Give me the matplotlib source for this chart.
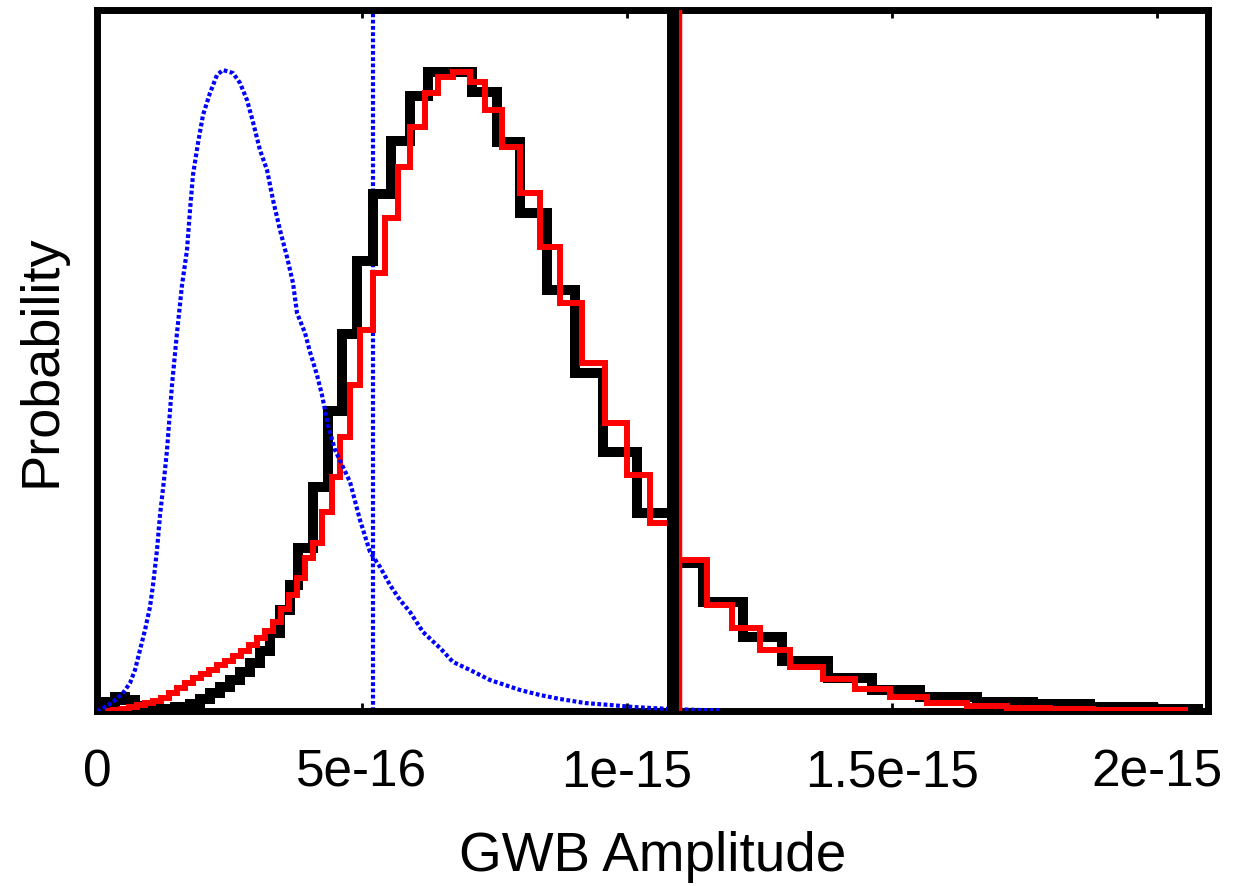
import matplotlib
matplotlib.use("Agg")
import matplotlib.pyplot as plt

plt.rcParams['font.family'] = ['Liberation Sans', 'DejaVu Sans']

SCALE = 1e-16  # x values below are in units of 1e-16

# Red histogram (bin edges, normalised probability per bin)
red_edges = [0.151, 0.302, 0.453, 0.604, 0.755, 0.906, 1.057, 1.208, 1.358, 1.509,
             1.660, 1.811, 1.962, 2.113, 2.264, 2.415, 2.566, 2.717, 2.868, 3.019,
             3.170, 3.321, 3.472, 3.623, 3.774, 3.925, 4.075, 4.245, 4.434, 4.585,
             4.774, 4.962, 5.208, 5.434, 5.679, 5.906, 6.189, 6.434, 6.717, 7.038,
             7.321, 7.642, 7.981, 8.358, 8.736, 9.151, 9.585, 10.000, 10.434, 10.943,
             11.509, 11.981, 12.509, 13.075, 13.698, 14.302, 14.962, 15.660, 16.415, 17.170,
             17.981, 18.792, 19.679, 20.585]
red_prob = [0.0, 0.0016, 0.0031, 0.0063, 0.0094, 0.0125, 0.0156, 0.0203, 0.0282, 0.036,
            0.0438, 0.0516, 0.0579, 0.0642, 0.072, 0.0782, 0.0861, 0.0939, 0.1033, 0.1142,
            0.1252, 0.1393, 0.1596, 0.1815, 0.2081, 0.2394, 0.2629, 0.3114, 0.3662, 0.4288,
            0.5102, 0.5962, 0.6854, 0.7715, 0.8513, 0.9139, 0.9671, 0.9922, 1.0, 0.9844,
            0.9405, 0.8826, 0.8106, 0.7261, 0.6385, 0.5446, 0.4507, 0.3693, 0.2942, 0.2363,
            0.1659, 0.1299, 0.0955, 0.0689, 0.0501, 0.0344, 0.0219, 0.0125, 0.0078, 0.0047,
            0.0031, 0.0016, 0.0008]

# Black histogram
black_edges = [0.0, 0.151, 0.340, 0.528, 0.717, 0.906, 1.189, 1.472, 1.755, 1.943,
               2.132, 2.321, 2.509, 2.698, 2.887, 3.075, 3.264, 3.453, 3.642, 3.792,
               4.075, 4.358, 4.623, 4.906, 5.208, 5.547, 5.906, 6.245, 7.075, 7.547,
               7.981, 8.491, 9.019, 9.547, 10.189, 10.849, 11.434, 12.189, 12.925, 13.792,
               14.623, 15.528, 16.604, 17.660, 18.736, 19.925, 20.868]
black_prob = [0.0094, 0.0141, 0.0219, 0.0172, 0.0078, 0.0016, 0.0031, 0.0063, 0.011, 0.0188,
              0.0282, 0.0376, 0.0485, 0.061, 0.0751, 0.0939, 0.1221, 0.1581, 0.1972, 0.2551,
              0.3505, 0.4695, 0.59, 0.7042, 0.8091, 0.892, 0.9624, 1.0, 0.9687, 0.8905,
              0.7793, 0.6588, 0.529, 0.4053, 0.3099, 0.2316, 0.1706, 0.1158, 0.0782, 0.0516,
              0.0329, 0.0219, 0.0141, 0.0102, 0.0063, 0.0031]

# Blue dotted curve
blue_x = [0.0, 0.151, 0.302, 0.491, 0.623, 0.717, 0.811, 0.906, 1.0, 1.057,
          1.132, 1.189, 1.264, 1.321, 1.415, 1.509, 1.604, 1.698, 1.755, 1.811,
          1.906, 2.0, 2.132, 2.264, 2.377, 2.566, 2.698, 2.830, 2.943, 3.075,
          3.208, 3.321, 3.453, 3.585, 3.698, 3.774, 3.925, 4.019, 4.151, 4.245,
          4.358, 4.491, 4.642, 4.774, 4.962, 5.151, 5.340, 5.528, 5.717, 5.906,
          6.151, 6.472, 6.717, 7.038, 7.415, 7.698, 7.981, 8.358, 8.736, 9.208,
          9.679, 10.113, 10.811, 11.377, 11.755]
blue_prob = [0.0, 0.0063, 0.0141, 0.0282, 0.0438, 0.0642, 0.0955, 0.1268, 0.1628, 0.1972,
             0.252, 0.3067, 0.3615, 0.4085, 0.5102, 0.5915, 0.6667, 0.7214, 0.784, 0.8388,
             0.8889, 0.9327, 0.9671, 0.9953, 1.0031, 0.9984, 0.9828, 0.9562, 0.9218, 0.8779,
             0.8466, 0.7997, 0.7527, 0.7105, 0.6698, 0.6228, 0.5915, 0.5618, 0.5258, 0.4945,
             0.4476, 0.4085, 0.3818, 0.3584, 0.2989, 0.2488, 0.2254, 0.1972, 0.1737, 0.1549,
             0.1236, 0.0986, 0.0767, 0.0642, 0.0485, 0.0407, 0.0329, 0.025, 0.0188, 0.0125,
             0.0094, 0.0063, 0.0031, 0.0016, 0.0008]

# Vertical marker lines
blue_vline = 5.208
black_vline = 10.87
red_vline = 11.0

xtick_values = [0, 5, 10, 15, 20]
xtick_labels = ["0", "5e-16", "1e-15", "1.5e-15", "2e-15"]

fig = plt.figure(figsize=(12.4, 8.86), dpi=100)
ax = fig.add_axes([97 / 1240, 1 - 711 / 886, (1208 - 97) / 1240, (711 - 10) / 886])

sc = lambda v: [x * SCALE for x in v]

dots = (0, (0.9, 0.6))
ax.axvline(blue_vline * SCALE, color='#0000ff', lw=3.0, linestyle=dots, zorder=1)
ax.stairs(black_prob, sc(black_edges), baseline=None, color='black', lw=7.2,
          joinstyle='miter', zorder=2)
ax.stairs(red_prob, sc(red_edges), baseline=None, color='#ff0000', lw=4.3,
          joinstyle='miter', zorder=3)
ax.plot(sc(blue_x), blue_prob, color='#0000ff', lw=3.0, linestyle=dots, zorder=4)
ax.axvline(red_vline * SCALE, color='#ff0000', lw=2.5, zorder=5)
ax.axvline(black_vline * SCALE, color='black', lw=8.6, zorder=6)

ax.set_xlim(0, 20.962 * SCALE)
ax.set_ylim(0, 701 / 639)

ax.set_xticks(sc(xtick_values))
ax.set_xticklabels(xtick_labels)
ax.set_yticks([])
ax.tick_params(axis='x', direction='in', top=True, bottom=True, length=6, width=2,
               labelsize=37, pad=27)
for s in ax.spines.values():
    s.set_linewidth(5)

ax.set_xlabel("GWB Amplitude", fontsize=39.5, labelpad=24)
ax.set_ylabel("Probability", fontsize=39, labelpad=22)

fig.savefig("out.png", dpi=100)
